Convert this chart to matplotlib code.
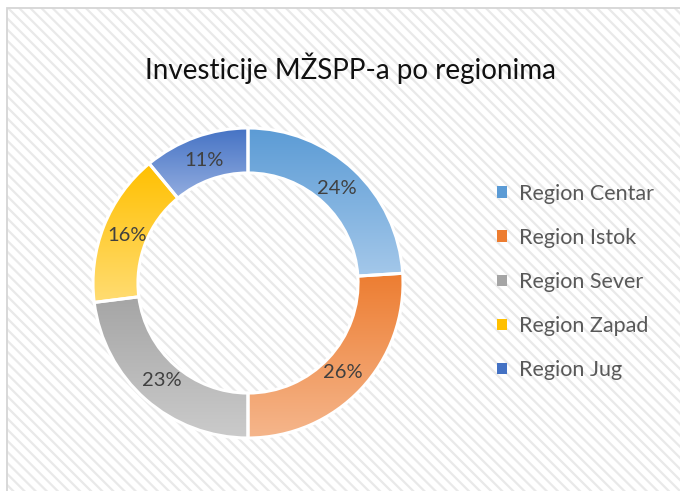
import numpy as np
import matplotlib
matplotlib.use("Agg")
import matplotlib.pyplot as plt
from matplotlib.patches import Rectangle, Patch
from matplotlib.colors import LinearSegmentedColormap

regions = ["Region Centar", "Region Istok", "Region Sever", "Region Zapad", "Region Jug"]
shares = [24, 26, 23, 16, 11]
top_colors = ["#5B9BD5", "#ED7D31", "#A5A5A5", "#FFC000", "#4472C4"]
bottom_colors = ["#A4C8EA", "#F5B68C", "#CBCBCB", "#FFDC72", "#93ADE0"]

plt.rcParams["font.family"] = ["Lato", "DejaVu Sans"]
plt.rcParams["hatch.linewidth"] = 1.6

fig = plt.figure(figsize=(6.8, 4.91), dpi=100)
W, H = 680, 491

# hatched chart area, border only on top and left
bg = Rectangle((7 / W, -0.05), 1.1, 1 - 8 / H + 0.05, transform=fig.transFigure,
               facecolor="white", edgecolor="#E9E9E9", hatch="\\\\\\", linewidth=0,
               zorder=-10)
fig.add_artist(bg)
border = Rectangle((7 / W, -0.05), 1.1, 1 - 8 / H + 0.05, transform=fig.transFigure,
                   facecolor="none", edgecolor="#D6D6D6", linewidth=1.3, zorder=-9)
fig.add_artist(border)

fig.text(350 / W, 1 - 68 / H, "Investicije MŽSPP-a po regionima", ha="center", va="center",
         fontsize=20, color="#111111")

cx, cy, r = 248, 283, 155
ax = fig.add_axes([(cx - r) / W, (H - cy - r) / H, 2 * r / W, 2 * r / H])
ax.patch.set_alpha(0)
ax.axis("off")

wedges, texts, autotexts = ax.pie(
    shares, startangle=90, counterclock=False, radius=1,
    wedgeprops=dict(width=0.29, edgecolor="white", linewidth=2.2),
    autopct="%1.0f%%", pctdistance=0.84,
    textprops=dict(fontsize=14.5, color="#404040"))

for w, c0, c1 in zip(wedges, top_colors, bottom_colors):
    ext = w.get_path().get_extents()
    cmap = LinearSegmentedColormap.from_list("g", [c1, c0])
    grad = np.linspace(0, 1, 256).reshape(-1, 1)
    ax.imshow(grad, extent=[ext.x0, ext.x1, ext.y0, ext.y1], origin="lower",
              cmap=cmap, aspect="auto", clip_path=w, zorder=w.get_zorder() - 0.1)
    w.set_facecolor("none")
for t in autotexts:
    t.set_zorder(5)

ax.set_xlim(-1, 1)
ax.set_ylim(-1, 1)

handles = [Patch(facecolor=c, edgecolor="none") for c in top_colors]
fig.legend(handles, regions, loc="center left", bbox_to_anchor=(478 / W, 1 - 282 / H),
           frameon=False, fontsize=15.5, labelcolor="#595959",
           handlelength=0.45, handleheight=0.45, handletextpad=0.55, labelspacing=1.12)

fig.savefig("out.png", dpi=100)
